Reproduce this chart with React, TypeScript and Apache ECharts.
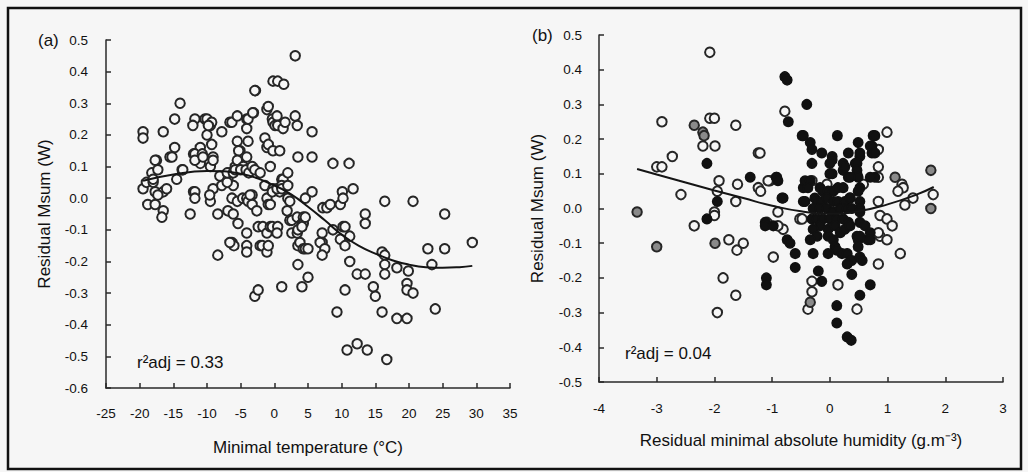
import React, { useEffect, useRef } from "react";
import * as echarts from "echarts";

// Panel (a): residual Msum vs minimal temperature
const panelAPoints: number[][] = [
  [-19.5,0.21],[-19.5,0.19],[-16.5,0.21],[-14.0,0.30],[-14.8,0.25],
  [-19.5,0.03],[-19.0,0.05],[-18.2,0.08],[-17.5,0.12],[-17.3,0.09],[-18.0,0.05],[-17.7,0.02],[-18.8,-0.02],[-17.7,-0.02],[-16.5,0.02],[-16.5,-0.04],[-16.7,-0.06],[-16.0,0.03],[-17.3,0.01],[-17.7,0.12],[-18.0,0.06],
  [-15.5,0.13],[-14.8,0.16],[-15.2,0.13],[-14.5,0.06],[-13.7,0.09],[-13.6,0.09],
  [-12.0,0.14],[-11.8,0.25],[-12.1,0.23],[-11.0,0.16],[-11.0,0.11],[-12.0,0.02],[-12.5,-0.05],[-11.8,0.14],[-10.7,0.14],[-11.8,0.12],[-11.8,0.02],[-11.8,0.00],
  [-10.3,0.25],[-9.5,0.23],[-10.0,0.20],[-9.3,0.17],[-10.6,0.13],[-9.1,0.13],[-9.5,0.10],[-9.1,0.12],[-10.0,0.25],[-9.3,0.24],[-9.8,0.23],[-9.1,0.03],[-9.5,-0.01],[-9.6,0.01],
  [-7.8,0.21],[-8.1,0.07],[-7.8,0.04],[-8.4,-0.05],[-8.4,-0.18],
  [-6.6,0.24],[-6.3,0.24],[-6.9,0.06],[-6.1,0.04],[-6.6,0.08],[-7.0,0.05],[-7.0,0.08],[-6.1,0.08],[-6.3,0.00],[-6.9,-0.04],[-6.1,-0.05],[-6.3,-0.14],[-6.0,-0.15],[-6.6,-0.14],
  [-5.5,0.26],[-5.5,0.18],[-5.1,0.15],[-4.8,0.13],[-5.1,0.10],[-5.8,0.10],[-5.3,0.15],[-5.5,0.12],[-4.6,0.10],[-5.8,0.09],[-5.0,0.09],[-5.4,-0.08],[-5.5,-0.01],[-4.7,0.00],
  [-4.1,0.25],[-4.1,0.22],[-3.9,0.25],[-3.9,0.18],[-4.1,0.13],[-4.2,0.09],[-3.8,0.08],[-4.1,0.00],[-3.9,-0.01],[-3.3,0.01],[-3.3,-0.02],[-3.6,0.01],[-4.1,-0.11],[-4.1,-0.15],[-4.1,-0.17],
  [-3.1,0.27],[-3.2,0.27],[-2.8,0.34],[-2.9,0.34],[-3.3,0.10],[-2.9,0.09],[-2.1,0.08],[-2.6,-0.04],[-2.9,-0.31],[-2.4,-0.29],[-2.1,-0.15],[-2.4,-0.09],
  [-1.8,-0.15],[-1.7,-0.09],[-1.1,0.28],[-0.9,0.29],[-1.4,0.19],[-1.1,0.16],[-0.9,0.17],[-1.4,0.04],[-1.1,0.00],[-0.9,-0.02],[-1.1,-0.11],[-1.1,-0.17],[-0.9,-0.15],
  [-0.2,0.37],[-0.3,0.25],[-0.2,0.24],[-0.2,0.15],[-0.6,0.10],[-0.2,0.03],[-0.3,0.02],[-0.6,-0.02],[-0.6,-0.09],[-0.3,-0.09],
  [0.5,0.37],[0.4,0.26],[0.1,0.23],[0.5,0.23],[0.8,0.15],[0.8,0.02],[0.4,0.03],[0.5,-0.09],[0.4,-0.11],
  [1.4,0.36],[1.3,0.22],[1.6,0.24],[1.1,0.06],[1.3,0.06],[1.1,0.04],[1.1,0.03],[1.1,-0.28],
  [2.0,0.08],[2.0,0.04],[2.0,0.00],[2.3,-0.01],[1.9,-0.04],[2.3,-0.07],[2.6,-0.07],[2.6,-0.11],
  [3.1,0.45],[3.1,0.26],[3.4,0.23],[3.5,0.13],[3.4,-0.06],[3.4,-0.11],[3.5,-0.10],[3.5,-0.15],[3.8,-0.14],[3.5,-0.21],
  [4.3,-0.06],[4.1,-0.08],[4.3,-0.08],[4.6,-0.06],[4.6,0.00],[4.1,-0.09],[4.3,-0.16],[4.6,-0.16],[5.0,-0.16],[5.0,-0.25],[4.1,-0.28],
  [5.6,0.21],[5.6,0.13],[5.6,0.02],[7.2,-0.03],[7.1,-0.11],[7.1,-0.14],[6.8,-0.14],[7.5,-0.16],[7.1,-0.18],[7.8,-0.03],[8.3,-0.02],
  [8.7,0.11],[8.7,-0.10],[9.8,-0.02],[9.8,-0.13],[9.3,-0.36],
  [10.1,0.02],[10.2,0.00],[10.2,-0.09],[10.5,-0.09],[10.5,-0.15],[10.5,-0.29],[10.8,-0.48],
  [11.1,0.11],[11.7,0.03],[11.2,-0.12],[11.2,-0.20],[12.3,-0.24],[12.3,-0.46],
  [13.5,-0.05],[13.5,-0.08],[13.5,-0.24],[13.8,-0.48],[14.7,-0.28],[15.0,-0.31],
  [16.4,-0.01],[16.0,-0.17],[16.4,-0.18],[16.4,-0.21],[16.4,-0.24],[16.0,-0.36],[16.7,-0.51],
  [18.2,-0.22],[18.2,-0.38],[19.9,-0.23],[19.7,-0.27],[19.7,-0.29],[19.7,-0.38],[20.6,-0.01],[20.6,-0.30],
  [22.8,-0.16],[23.4,-0.21],[23.9,-0.35],[25.3,-0.05],[25.3,-0.16],[29.4,-0.14],
];

// Fitted curve
const panelACurve: number[][] = [
  [-19.5,0.055],[-15,0.075],[-10,0.086],[-5,0.077],[0,0.04],[2.5,0.012],[5,-0.027],
  [7.5,-0.07],[10,-0.115],[12.5,-0.15],[15,-0.175],[17.5,-0.196],[20,-0.21],
  [22.5,-0.218],[25,-0.22],[27.5,-0.218],[29.4,-0.214],
];

// Panel (b): residual Msum vs residual minimal absolute humidity
const panelBOpen: number[][] = [
  [-2.08,0.45],[-2.91,0.25],[-2.08,0.26],[-2.0,0.26],[-2.2,0.18],[-1.99,0.18],[-1.63,0.24],[-1.24,0.16],[-2.73,0.15],[-3.0,0.12],[-2.91,0.12],
  [-1.92,0.08],[-1.6,0.07],[-2.58,0.04],[-1.24,0.06],[-1.2,0.05],[-1.04,0.08],[-1.63,0.02],[-1.95,0.05],[-2.0,-0.01],[-2.0,-0.02],[-2.35,-0.05],
  [-1.75,-0.09],[-1.61,-0.12],[-1.5,-0.1],[-1.85,-0.2],[-1.63,-0.25],[-1.95,-0.3],[-0.98,-0.14],[-0.78,0.28],[-1.07,0.08],[-1.21,0.16],
  [-0.9,-0.01],[-1.09,-0.04],[-0.52,-0.03],[-0.48,-0.03],[-0.81,-0.06],[-0.9,-0.05],[-0.31,0.08],[-0.05,0.07],[0.35,0.03],[0.58,0.07],
  [0.84,0.17],[0.84,0.12],[0.84,0.09],[0.99,0.22],[0.84,0.02],[0.87,-0.02],[0.99,-0.03],[1.08,-0.05],[1.25,0.07],[1.27,0.06],[1.18,0.05],
  [1.3,0.01],[1.44,0.03],[1.79,0.04],[0.87,-0.08],[0.99,-0.09],[0.84,-0.07],[1.22,-0.13],[0.84,-0.16],[-0.31,-0.21],[-0.31,-0.24],
  [-0.38,-0.29],[0.14,-0.22],[0.47,-0.29],
];

const panelBGray: number[][] = [
  [-3.34,-0.01],[-2.35,0.24],[-2.2,0.22],[-2.18,0.21],[-3.0,-0.11],[-1.99,-0.10],[1.75,0.11],[1.75,0.0],[1.13,0.09],[-0.34,-0.27],
];

const panelBBlack: number[][] = [
  [-2.13,0.13],[-1.38,0.09],[-1.95,0.02],[-2.13,-0.03],[-1.12,-0.04],[-1.12,-0.05],[-0.92,0.09],[-1.1,-0.2],[-1.1,-0.22],
  [-0.78,0.38],[-0.74,0.37],[-0.4,0.30],[-0.72,0.25],[-0.46,0.21],[-0.48,0.21],[-0.34,0.19],[-0.31,0.17],[-0.14,0.16],[-0.31,0.13],
  [0.13,0.21],[0.04,0.15],[0.04,0.14],[0.0,0.13],[0.23,0.13],[0.23,0.11],[0.26,0.12],[0.32,0.16],[0.49,0.19],[0.52,0.15],[0.52,0.16],
  [0.75,0.21],[0.78,0.21],[0.7,0.18],[0.73,0.16],[0.73,0.18],[0.78,0.16],[0.44,0.13],[0.47,0.10],[0.47,0.13],[0.47,0.11],[0.49,0.09],
  [0.04,0.10],[0.0,0.10],[0.32,0.09],[0.35,0.09],[0.78,0.09],[0.70,0.09],
  [-0.93,0.09],[-0.9,0.08],[-0.83,0.03],[-0.81,0.03],[-0.46,0.02],[-0.46,0.06],[-0.43,0.08],[-0.43,0.02],[-0.34,0.08],[-0.38,0.06],[-0.26,0.03],
  [-0.17,0.06],[-0.12,0.05],[-0.03,0.05],[0.06,0.05],[0.14,0.06],[0.23,0.06],[0.52,0.06],[0.49,0.05],
  [-0.22,0.02],[-0.14,0.02],[-0.05,0.03],[0.06,0.02],[0.14,0.02],[0.26,0.02],[0.35,0.03],[0.52,0.02],
  [-0.29,0.0],[-0.17,0.0],[-0.05,0.0],[0.06,-0.01],[0.18,0.0],[0.30,0.0],[0.38,0.0],[0.52,0.0],[0.52,-0.01],
  [-0.31,-0.03],[-0.22,-0.03],[-0.12,-0.03],[0.0,-0.03],[0.12,-0.03],[0.23,-0.03],[0.32,-0.04],[0.52,-0.04],[0.61,-0.05],
  [-0.17,-0.05],[-0.03,-0.06],[0.09,-0.05],[0.18,-0.07],[-0.29,-0.06],[-0.22,-0.08],[-0.03,-0.08],[0.06,-0.09],[0.09,-0.11],[0.12,-0.12],
  [0.26,-0.06],[0.35,-0.05],[0.47,-0.08],[0.49,-0.09],[0.49,-0.11],[0.52,-0.08],[0.66,-0.09],[0.70,-0.07],[0.70,-0.09],
  [0.21,-0.13],[0.30,-0.13],[0.38,-0.15],[0.52,-0.14],[0.56,-0.15],[0.30,-0.16],[0.38,-0.19],[-0.29,-0.13],[-0.34,-0.09],[-0.03,-0.13],
  [-0.74,-0.09],[-0.69,-0.10],[-0.60,-0.13],[-0.60,-0.17],[-0.98,-0.05],
  [-0.20,-0.18],[-0.14,-0.21],[0.70,-0.22],[0.52,-0.25],[0.12,-0.28],[0.12,-0.33],[0.30,-0.37],[0.37,-0.38],
];

// Fitted curve
const panelBCurve: number[][] = [
  [-3.34,0.114],[-3,0.098],[-2.5,0.075],[-2,0.052],[-1.5,0.03],[-1,0.008],[-0.5,-0.008],
  [0,-0.015],[0.5,-0.008],[1,0.012],[1.5,0.04],[1.8,0.062],
];

const panelLabels = ["(a)", "(b)"];
const fitLabels = ["r²adj = 0.33", "r²adj = 0.04"];
const xAxisNames = ["Minimal temperature (°C)", "Residual minimal absolute humidity (g.m⁻³)"];
const yAxisName = "Residual Msum (W)";

const FONT = "'Liberation Sans', Arial, sans-serif";
const TXT = "#111";
const BG = "#f6f6f6";

function fmt1(v: number) {
  const r = Math.round(v * 10) / 10;
  return (r === 0 ? 0 : r).toFixed(1);
}

export default function App() {
  const ref = useRef<HTMLDivElement>(null);
  useEffect(() => {
    document.body.style.margin = "0";
    const chart = echarts.init(ref.current!, undefined, { renderer: "svg" });
    const axisLine = { show: true, onZero: false, lineStyle: { color: "#2a2a2a", width: 1.5 } };
    const axisTick = { show: true, inside: true, length: 5, lineStyle: { color: "#2a2a2a", width: 1.5 } };
    const labelStyle = { color: TXT, fontSize: 13.5, fontFamily: FONT };
    const nameStyle = { color: TXT, fontSize: 17, fontFamily: FONT };
    const openSym = {
      type: "scatter" as const,
      symbol: "circle",
      symbolSize: 9.5,
      itemStyle: { color: BG, borderColor: "#262626", borderWidth: 2, opacity: 1 },
    };
    const option: any = {
      animation: false,
      backgroundColor: BG,
      grid: [
        { left: 106, top: 40, width: 404, height: 348 },
        { left: 599, top: 35, width: 404, height: 347 },
      ],
      xAxis: [
        {
          gridIndex: 0, type: "value", min: -25, max: 35, interval: 5,
          axisLine, axisTick, splitLine: { show: false },
          axisLabel: { ...labelStyle, margin: 18 },
          name: xAxisNames[0], nameLocation: "middle", nameGap: 51, nameTextStyle: nameStyle,
        },
        {
          gridIndex: 1, type: "value", min: -4, max: 3, interval: 1,
          axisLine, axisTick, splitLine: { show: false },
          axisLabel: { ...labelStyle, margin: 19 },
          name: xAxisNames[1], nameLocation: "middle", nameGap: 50, nameTextStyle: nameStyle,
        },
      ],
      yAxis: [
        {
          gridIndex: 0, type: "value", min: -0.6, max: 0.5, interval: 0.1,
          axisLine, axisTick, splitLine: { show: false },
          axisLabel: { ...labelStyle, margin: 18, formatter: fmt1 },
          name: yAxisName, nameLocation: "middle", nameGap: 53, nameRotate: 90, nameTextStyle: nameStyle,
        },
        {
          gridIndex: 1, type: "value", min: -0.5, max: 0.5, interval: 0.1,
          axisLine, axisTick, splitLine: { show: false },
          axisLabel: { ...labelStyle, margin: 17, formatter: fmt1 },
          name: yAxisName, nameLocation: "middle", nameGap: 53, nameRotate: 90, nameTextStyle: nameStyle,
        },
      ],
      series: [
        { ...openSym, xAxisIndex: 0, yAxisIndex: 0, data: panelAPoints },
        {
          type: "line", xAxisIndex: 0, yAxisIndex: 0, data: panelACurve, smooth: 0.5,
          showSymbol: false, lineStyle: { color: "#151515", width: 2 }, z: 5,
        },
        { ...openSym, xAxisIndex: 1, yAxisIndex: 1, data: panelBOpen },
        {
          type: "scatter", xAxisIndex: 1, yAxisIndex: 1, data: panelBGray, symbolSize: 9.5,
          itemStyle: { color: "#8a8a8a", borderColor: "#262626", borderWidth: 2, opacity: 1 },
        },
        {
          type: "scatter", xAxisIndex: 1, yAxisIndex: 1, data: panelBBlack, symbolSize: 9.5,
          itemStyle: { color: "#111", borderColor: "#111", borderWidth: 1.5, opacity: 1 },
        },
        {
          type: "line", xAxisIndex: 1, yAxisIndex: 1, data: panelBCurve, smooth: 0.5,
          showSymbol: false, lineStyle: { color: "#151515", width: 2 }, z: 5,
        },
      ],
      graphic: [
        {
          type: "rect", shape: { x: 8, y: 8, width: 1013, height: 461 },
          style: { fill: "none", stroke: "#111", lineWidth: 2.5 }, silent: true,
        },
        { type: "text", x: 38, y: 40, style: { text: panelLabels[0], fill: TXT, font: `17px ${FONT}`, verticalAlign: "middle" } },
        { type: "text", x: 532, y: 35, style: { text: panelLabels[1], fill: TXT, font: `17px ${FONT}`, verticalAlign: "middle" } },
        { type: "text", x: 137, y: 362, style: { text: fitLabels[0], fill: TXT, font: `17px ${FONT}`, verticalAlign: "middle" } },
        { type: "text", x: 625, y: 353, style: { text: fitLabels[1], fill: TXT, font: `17px ${FONT}`, verticalAlign: "middle" } },
      ],
    };
    chart.setOption(option);
    return () => chart.dispose();
  }, []);
  return <div ref={ref} style={{ width: 1028, height: 472 }} />;
}
